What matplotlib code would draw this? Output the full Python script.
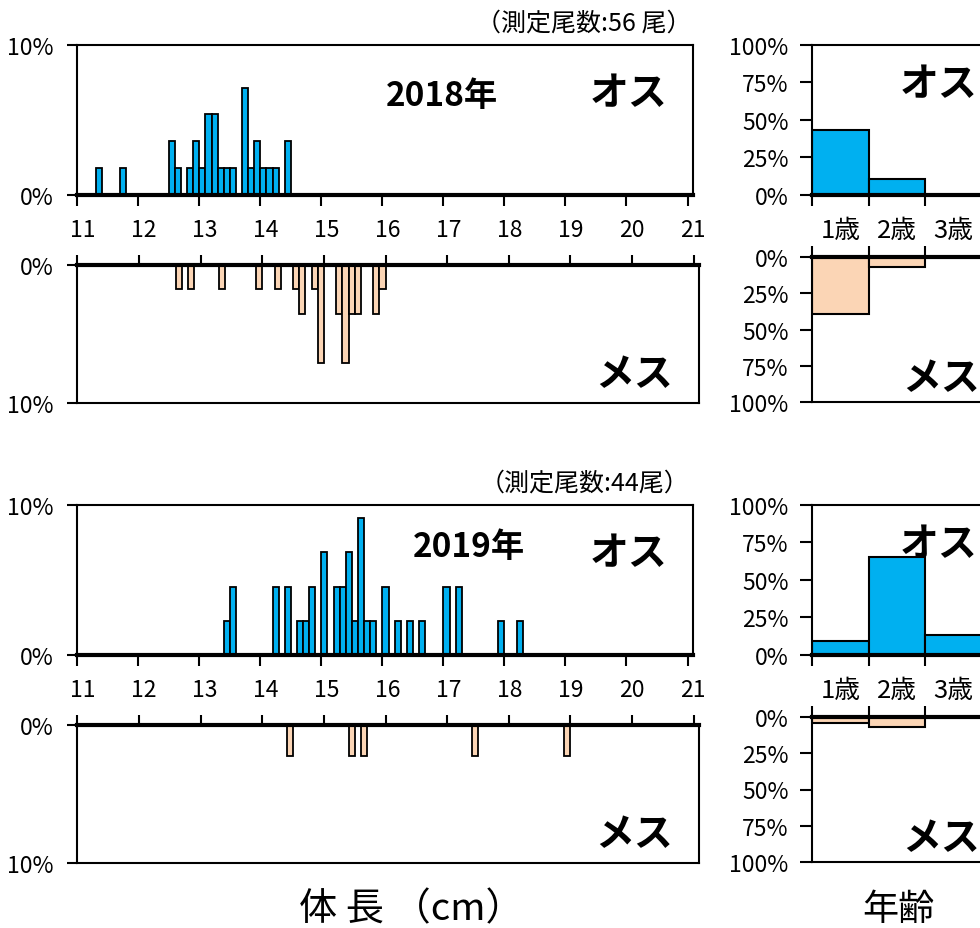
import numpy as np
import matplotlib
matplotlib.use("Agg")
import matplotlib.pyplot as plt
from matplotlib.transforms import ScaledTranslation

plt.rcParams['font.family'] = ['Noto Sans CJK JP', 'DejaVu Sans']

W, H = 980, 929

# body length bins (cm, left edge of each 0.1 cm class) and fish counts
len18_m = [11.3, 11.7, 12.5, 12.6, 12.8, 12.9, 13.0, 13.1, 13.2, 13.3, 13.4, 13.5,
           13.7, 13.8, 13.9, 14.0, 14.1, 14.2, 14.4]
cnt18_m = [1, 1, 2, 1, 1, 2, 1, 3, 3, 1, 1, 1, 4, 1, 2, 1, 1, 1, 2]
len18_f = [12.6, 12.8, 13.3, 13.9, 14.2, 14.5, 14.6, 14.8, 14.9, 15.2, 15.3, 15.4,
           15.5, 15.8, 15.9]
cnt18_f = [1, 1, 1, 1, 1, 1, 2, 1, 4, 2, 4, 2, 2, 2, 1]
n18 = 56

len19_m = [13.4, 13.5, 14.2, 14.4, 14.6, 14.7, 14.8, 15.0, 15.2, 15.3, 15.4, 15.5,
           15.6, 15.7, 15.8, 16.0, 16.2, 16.4, 16.6, 17.0, 17.2, 17.9, 18.2]
cnt19_m = [1, 2, 2, 2, 1, 1, 2, 3, 2, 2, 3, 1, 4, 1, 1, 2, 1, 1, 1, 2, 2, 1, 1]
len19_f = [14.4, 15.4, 15.6, 17.4, 18.9]
cnt19_f = [1, 1, 1, 1, 1]
n19 = 44

# age composition (%)
ages = ['1歳', '2歳', '3歳']
age18_m = [42.9, 10.7, 0.0]
age18_f = [39.3, 7.1, 0.0]
age19_m = [9.1, 65.0, 13.2]
age19_f = [4.5, 6.8, 0.0]

BLUE = '#00B0F0'
PEACH = '#FBD5B5'
TICK_FS = 16.5


def box(x0, y0, x1, y1):
    return [x0 / W, 1 - y1 / H, (x1 - x0) / W, (y1 - y0) / H]


def length_panel(rect, bins, counts, n, female):
    ax = fig.add_axes(box(*rect))
    pct = np.array(counts) / n * 100
    ax.bar(bins, pct, width=0.1, align='edge', color=PEACH if female else BLUE,
           edgecolor='black', linewidth=1.3, zorder=2)
    ax.set_xlim(11, 21.09)
    ax.set_xticks(range(11, 22))
    ax.set_yticks([0, 10])
    ax.set_yticklabels(['0%', '10%'], fontsize=TICK_FS)
    ax.tick_params(axis='y', length=7, width=1.5, pad=10)
    for s in ax.spines.values():
        s.set_linewidth(1.5)
    if female:
        ax.set_ylim(10, 0)
        ax.xaxis.tick_top()
        ax.tick_params(axis='x', length=7, width=1.5, labeltop=False)
        ax.spines['top'].set_linewidth(3)
        ax.spines['top'].set_zorder(3)
    else:
        ax.set_ylim(0, 10)
        ax.set_xticklabels([str(v) for v in range(11, 22)], fontsize=TICK_FS)
        ax.tick_params(axis='x', length=8, width=1.5, pad=9)
        ax.spines['bottom'].set_linewidth(3)
        shift = ScaledTranslation(5 / 100, 0, fig.dpi_scale_trans)
        for lab in ax.get_xticklabels():
            lab.set_transform(lab.get_transform() + shift)
    return ax


def age_panel(rect, values, female):
    ax = fig.add_axes(box(*rect))
    x = np.arange(len(values)) + 0.5
    ax.bar(x, values, width=1.0, color=PEACH if female else BLUE,
           edgecolor='black', linewidth=1.5, zorder=2)
    ax.set_xlim(0, 4)
    ax.set_xticks([0, 1, 2, 3])
    ax.set_xticklabels([])
    ax.set_yticks([0, 25, 50, 75, 100])
    ax.set_yticklabels(['0%', '25%', '50%', '75%', '100%'], fontsize=TICK_FS)
    ax.tick_params(axis='y', length=9, width=1.5, pad=8)
    ax.spines['right'].set_visible(False)
    for s in ax.spines.values():
        s.set_linewidth(1.5)
    if female:
        ax.set_ylim(100, 0)
        ax.xaxis.tick_top()
        ax.tick_params(axis='x', length=8, width=1.5, labeltop=False)
        ax.spines['top'].set_linewidth(3)
        ax.spines['top'].set_zorder(3)
    else:
        ax.set_ylim(0, 100)
        ax.set_xticks(x, minor=True)
        ax.set_xticklabels(ages, minor=True, fontsize=18.5)
        ax.tick_params(axis='x', which='major', length=8, width=1.5)
        ax.tick_params(axis='x', which='minor', length=0, pad=16)
        ax.spines['bottom'].set_linewidth(3)
    return ax


fig = plt.figure(figsize=(W / 100, H / 100), dpi=100)

panels = [
    (45.7, 2018, n18, len18_m, cnt18_m, len18_f, cnt18_f, age18_m, age18_f,
     0.592, '（測定尾数:56 尾）'),
    (505.7, 2019, n19, len19_m, cnt19_m, len19_f, cnt19_f, age19_m, age19_f,
     0.637, '（測定尾数:44尾）'),
]

for (top, year, n, lm, cm, lf, cf, am, af, yx, label) in panels:
    axm = length_panel((77.3, top, 693, top + 150), lm, cm, n, False)
    axf = length_panel((77.3, top + 220, 699.3, top + 358), lf, cf, n, True)
    agm = age_panel((812, top, 1038, top + 150), am, False)
    agf = age_panel((812, top + 212, 1038, top + 357.6), af, True)

    ty = 0.66 if year == 2018 else 0.72
    axm.text(yx, ty, f'{year}年', transform=axm.transAxes, fontsize=24,
             fontweight='bold', ha='center', va='center')
    axm.text(0.895, 0.68, 'オス', transform=axm.transAxes, fontsize=28,
             fontweight='bold', ha='center', va='center')
    axf.text(0.895, 0.21, 'メス', transform=axf.transAxes, fontsize=28,
             fontweight='bold', ha='center', va='center')
    agm.text(0.56, 0.74, 'オス', transform=agm.transAxes, fontsize=28,
             fontweight='bold', ha='center', va='center')
    agf.text(0.57, 0.17, 'メス', transform=agf.transAxes, fontsize=28,
             fontweight='bold', ha='center', va='center')

    fig.text(584 / W, 1 - (top - 22) / H, label, fontsize=18,
             ha='center', va='center')

fig.text(411 / W, 1 - 910 / H, '体 長 （cm）', fontsize=27.5, ha='center', va='center')
fig.text(898 / W, 1 - 910 / H, '年齢', fontsize=26, ha='center', va='center')

fig.savefig('out.png', dpi=100)
